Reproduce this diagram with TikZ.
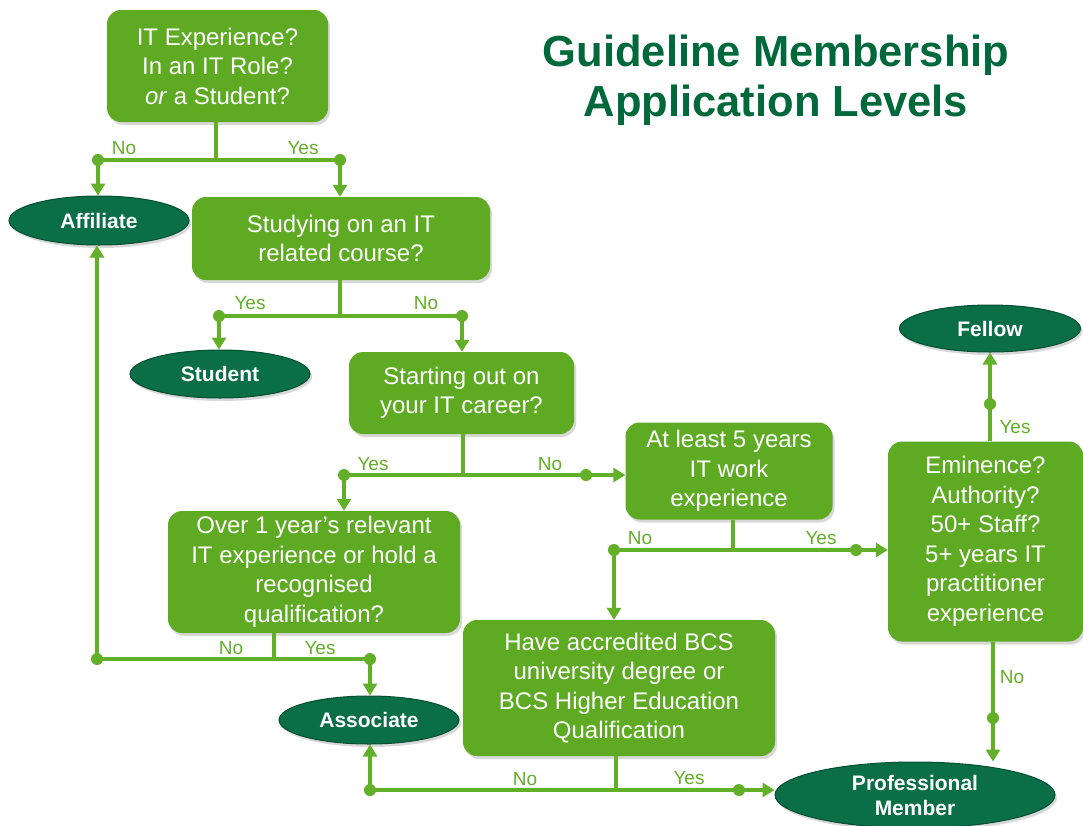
\documentclass[tikz,border=0pt]{standalone}
\usepackage{fontspec}
\setmainfont{Liberation Sans}
\usetikzlibrary{shapes.geometric,arrows.meta,shadows}
\definecolor{boxgreen}{RGB}{94,170,34}
\definecolor{linegreen}{RGB}{98,175,40}
\definecolor{ovalgreen}{RGB}{10,110,70}
\definecolor{ovaldark}{RGB}{5,80,50}
\definecolor{titlegreen}{RGB}{0,105,60}
\begin{document}
\begin{tikzpicture}[x=1pt,y=-1pt,
        qbox/.style={rectangle,rounded corners=14pt,fill=boxgreen,text=white,inner sep=0pt,align=center,
            font=\fontsize{24}{29.5}\selectfont,drop shadow={opacity=0.3,shadow xshift=2pt,shadow yshift=-3pt}},
        member/.style={ellipse,fill=ovalgreen,draw=ovaldark,line width=1pt,text=white,inner sep=0pt,align=center,
            font=\fontsize{21}{25}\selectfont\bfseries,drop shadow={opacity=0.3,shadow xshift=2pt,shadow yshift=-3pt}},
        lbl/.style={text=linegreen,inner sep=0pt,font=\fontsize{19}{22}\selectfont},
        link/.style={draw=linegreen,line width=4pt},
        arr/.style={link,-{Triangle[width=14pt,length=12pt]}},
        jdot/.style={fill=linegreen}]
        \clip (0,0) rectangle (1083,825);
        \fill[white] (0,0) rectangle (1083,825);
        \node[text=titlegreen,align=center,font=\fontsize{43.5}{50}\selectfont\bfseries] (title) at (776,80) {Guideline Membership\\Application Levels};
        \node[qbox,minimum width=221pt,minimum height=112pt] (q1) at (217.5,66) {IT Experience?\\In an IT Role?\\\textit{or} a Student?};
        \node[qbox,minimum width=298pt,minimum height=83pt] (q2) at (341,238.5) {Studying on an IT\\related course?};
        \node[qbox,minimum width=225pt,minimum height=82pt] (q3) at (461.5,393) {Starting out on\\your IT career?};
        \node[qbox,minimum width=207pt,minimum height=97pt] (q4) at (729,471) {At least 5 years\\IT work\\experience};
        \node[qbox,minimum width=292pt,minimum height=122pt] (q5) at (314,572) {Over 1 year’s relevant\\IT experience or hold a\\recognised\\qualification?};
        \node[qbox,minimum width=195pt,minimum height=200pt] (q6) at (985.5,541.5) {Eminence?\\Authority?\\50+ Staff?\\5+ years IT\\practitioner\\experience};
        \node[qbox,minimum width=312pt,minimum height=136pt] (q7) at (619,688) {Have accredited BCS\\university degree or\\BCS Higher Education\\Qualification};
        \node[member,minimum width=180pt,minimum height=49pt] (affiliate) at (99,220.5) {Affiliate};
        \node[member,minimum width=180pt,minimum height=48pt] (student) at (220,374) {Student};
        \node[member,minimum width=180pt,minimum height=48pt] (associate) at (369,720) {Associate};
        \node[member,minimum width=181pt,minimum height=47pt] (fellow) at (990,328.5) {Fellow};
        \node[member,minimum width=280pt,minimum height=66pt] (pro) at (915,795) {Professional\\Member};
        \coordinate (s1) at (216,160);
        \coordinate (n1) at (98,160);
        \coordinate (y1) at (340,160);
        \coordinate (s2) at (340,316);
        \coordinate (y2) at (219,316);
        \coordinate (n2) at (462,316);
        \coordinate (s3) at (463,475);
        \coordinate (y3) at (344,475);
        \coordinate (n3) at (586,475);
        \coordinate (s4) at (733,550);
        \coordinate (n4) at (614,550);
        \coordinate (y4) at (856,550);
        \coordinate (s5) at (274,659);
        \coordinate (n5) at (97,659);
        \coordinate (y5) at (370,659);
        \coordinate (s6) at (616,790);
        \coordinate (n6) at (370,790);
        \coordinate (y6) at (739,790);
        \coordinate (y7) at (990,404);
        \coordinate (n7) at (993,718);
        \draw[link] (s1 |- q1.south) -- (s1);
        \draw[link] (n1) -- (y1);
        \draw[arr] (n1) -- (n1 |- affiliate.north);
        \draw[arr] (y1) -- (y1 |- q2.north);
        \draw[link] (s2 |- q2.south) -- (s2);
        \draw[link] (y2) -- (n2);
        \draw[arr] (y2) -- (y2 |- student.north);
        \draw[arr] (n2) -- (n2 |- q3.north);
        \draw[link] (s3 |- q3.south) -- (s3);
        \draw[link] (y3) -- (n3);
        \draw[arr] (n3) -- (n3 -| q4.west);
        \draw[arr] (y3) -- (y3 |- q5.north);
        \draw[link] (s4 |- q4.south) -- (s4);
        \draw[link] (n4) -- (y4);
        \draw[arr] (y4) -- (y4 -| q6.west);
        \draw[arr] (n4) -- (n4 |- q7.north);
        \draw[link] (s5 |- q5.south) -- (s5);
        \draw[link] (n5) -- (y5);
        \draw[arr] (n5) -- (n5 |- affiliate.south);
        \draw[arr] (y5) -- (y5 |- associate.north);
        \draw[link] (s6 |- q7.south) -- (s6);
        \draw[link] (n6) -- (y6);
        \draw[arr] (n6) -- (n6 |- associate.south);
        \draw[arr] (y6) -- (y6 -| pro.west);
        \draw[link] (y7 |- q6.north) -- (y7);
        \draw[arr] (y7) -- (y7 |- fellow.south);
        \draw[link] (n7 |- q6.south) -- (n7);
        \draw[arr] (n7) -- (n7 |- pro.north);
        \fill[jdot] (n1) circle (6) (y1) circle (6) (y2) circle (6) (n2) circle (6);
        \fill[jdot] (y3) circle (6) (n3) circle (6) (n4) circle (6) (y4) circle (6);
        \fill[jdot] (n5) circle (6) (y5) circle (6) (n6) circle (6) (y6) circle (6);
        \fill[jdot] (y7) circle (6) (n7) circle (6);
        \node[lbl] (l1n) at (124,148) {No};
        \node[lbl] (l1y) at (303,148) {Yes};
        \node[lbl] (l2y) at (250,303) {Yes};
        \node[lbl] (l2n) at (426,303) {No};
        \node[lbl] (l3y) at (373,464) {Yes};
        \node[lbl] (l3n) at (550,464) {No};
        \node[lbl] (l4n) at (640,538) {No};
        \node[lbl] (l4y) at (821,538) {Yes};
        \node[lbl] (l5n) at (231,648) {No};
        \node[lbl] (l5y) at (320,648) {Yes};
        \node[lbl] (l6n) at (525,779) {No};
        \node[lbl] (l6y) at (689,778) {Yes};
        \node[lbl] (l7y) at (1015,427) {Yes};
        \node[lbl] (l7n) at (1012,677) {No};
    \end{tikzpicture}
\end{document}
